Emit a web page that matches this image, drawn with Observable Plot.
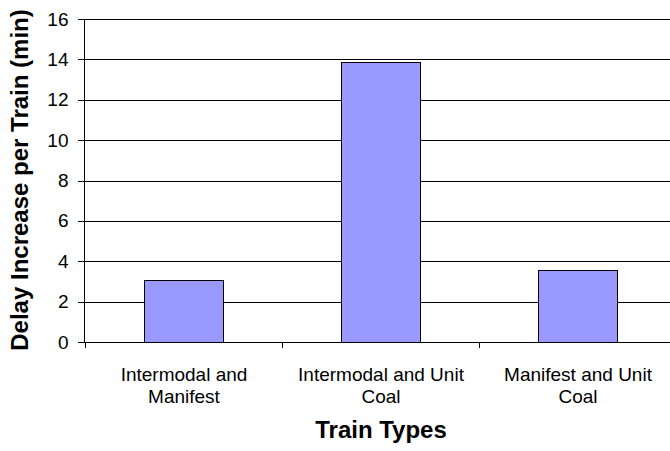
<!DOCTYPE html>
<html>
<head>
<meta charset="utf-8">
<script src="https://cdn.jsdelivr.net/npm/d3@7"></script>
<script src="https://cdn.jsdelivr.net/npm/@observablehq/plot@0.6"></script>
<style>
  html, body { margin: 0; padding: 0; background: #fff; overflow: hidden; }
  #chart svg { display: block; max-width: none !important; }
</style>
</head>
<body>
<div id="chart"></div>
<script>
// ---- data ----
const categories = ["Intermodal and Manifest", "Intermodal and Unit Coal", "Manifest and Unit Coal"];
const tickLabels = ["Intermodal and\nManifest", "Intermodal and Unit\nCoal", "Manifest and Unit\nCoal"];
const delays = [3.04, 13.85, 3.52];
const yTicks = [0, 2, 4, 6, 8, 10, 12, 14, 16];
const yTitle = "Delay Increase per Train (min)";
const xTitle = "Train Types";

const rows = categories.map((c, i) => ({ type: c, delay: delays[i] }));
const labelOf = new Map(categories.map((c, i) => [c, tickLabels[i]]));

// ---- layout ----
const W = 677, H = 451;
const mL = 84, mR = 0, mT = 19, mB = 109;
const step = (W - mL - mR) / categories.length;
const font = "Liberation Sans, Arial, Helvetica, sans-serif";

const chart = Plot.plot({
  width: W,
  height: H,
  marginLeft: mL,
  marginRight: mR,
  marginTop: mT,
  marginBottom: mB,
  style: { fontFamily: font, color: "#000", background: "#fff", maxWidth: "none" },
  x: { type: "band", domain: categories, paddingInner: 0.6, paddingOuter: 0.3, label: null },
  y: { domain: [0, 16], label: null },
  marks: [
    Plot.ruleY(yTicks.filter(d => d > 0), { stroke: "#000", strokeWidth: 1, shapeRendering: "crispEdges" }),
    Plot.barY(rows, { x: "type", y: "delay", fill: "#9999ff", stroke: "#000", strokeWidth: 1, shapeRendering: "crispEdges" }),
    Plot.frame({ anchor: "left", stroke: "#000", shapeRendering: "crispEdges" }),
    Plot.frame({ anchor: "bottom", stroke: "#000", shapeRendering: "crispEdges" }),
    Plot.axisY({ ticks: yTicks, tickSize: 6, tickPadding: 10, fontSize: 19, label: null, stroke: "#000", shapeRendering: "crispEdges" }),
    Plot.axisX({ text: null, tickSize: 6, dx: -step / 2, stroke: "#000", label: null, shapeRendering: "crispEdges" }),
    Plot.axisX({ tickSize: 0, tickPadding: 23, fontSize: 19, lineHeight: 1.16, tickFormat: d => labelOf.get(d), label: null }),
    Plot.text([yTitle], { frameAnchor: "left", textAnchor: "middle", lineAnchor: "middle", dx: -64, dy: -1, rotate: -90, fontSize: 24, fontWeight: "bold", fill: "#000" }),
    Plot.text([xTitle], { frameAnchor: "bottom", textAnchor: "middle", lineAnchor: "middle", dy: 88, fontSize: 24, fontWeight: "bold", fill: "#000" })
  ]
});
document.getElementById("chart").appendChild(chart);
</script>
</body>
</html>
